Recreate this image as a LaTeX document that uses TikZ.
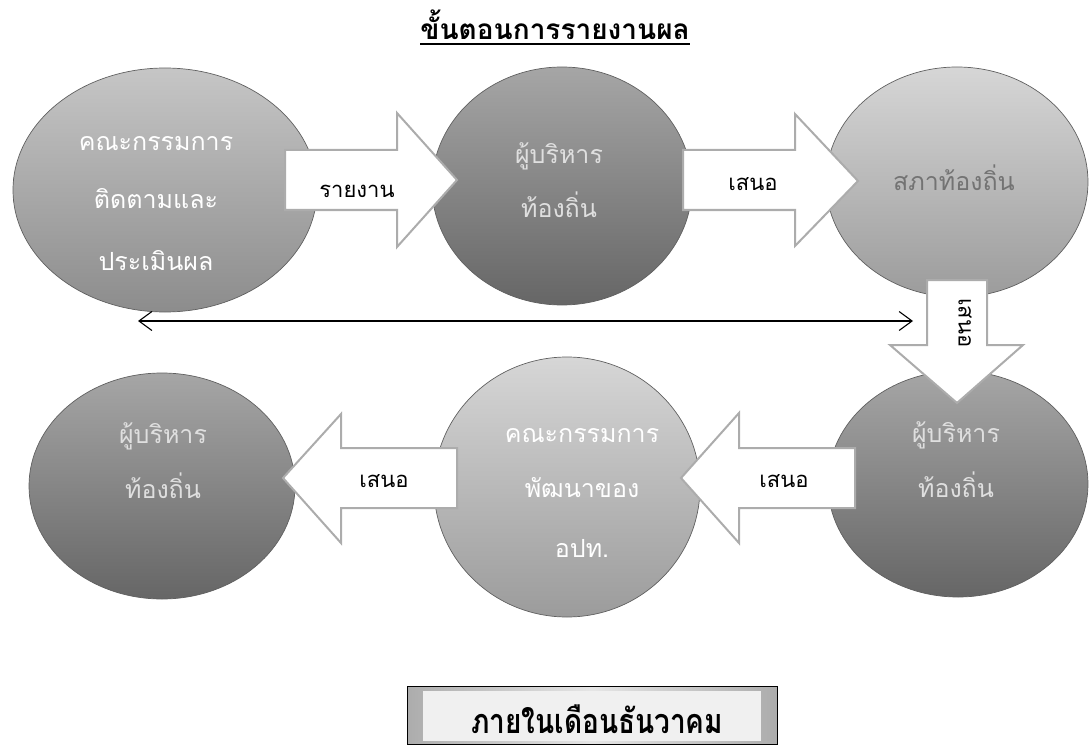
\documentclass[tikz,border=0pt]{standalone}
\usepackage{fontspec}
\newfontfamily\thaifont[Script=Thai]{Loma}
\usetikzlibrary{shapes.geometric,arrows.meta,calc}
\begin{document}
\begin{tikzpicture}[x=1pt,y=-1pt,
  bubble/.style={ellipse, draw=gray!75!black, line width=0.7pt, inner sep=0pt},
  bdark/.style={bubble, top color=gray!70, bottom color=black!60},
  bmid/.style={bubble, top color=gray!45, bottom color=gray!90},
  blight/.style={bubble, top color=gray!32, bottom color=gray!78},
  btext/.style={font=\thaifont\fontsize{25}{30}\selectfont, anchor=base, inner sep=0pt},
  wtext/.style={btext, text=white},
  gtext/.style={btext, text=gray!25},
  blockarrow/.style={draw=gray!65, line width=2pt, fill=white, line join=miter},
  lbl/.style={font=\thaifont\fontsize{22}{26}\selectfont, anchor=base, inner sep=0pt},
  heading/.style={font=\thaifont\bfseries\fontsize{28}{32}\selectfont, anchor=base, inner sep=0pt},
  thin arrow/.style={line width=1.1pt, {Straight Barb[length=13pt,width=19pt]}-{Straight Barb[length=13pt,width=19pt]}}
]
\useasboundingbox (0,0) rectangle (1089,746);

% title
\node[heading] (title) at (555,40) {ขั้นตอนการรายงานผล};
\draw[line width=1.8pt] ($(title.base west)+(0,4)$) -- ($(title.base east)+(0,4)$);

% ellipses, top row
\node[bmid, minimum width=304pt, minimum height=244pt] (e1) at (165,190) {};
\node[bdark, minimum width=260pt, minimum height=238pt] (e2) at (562,186) {};
\node[blight, minimum width=262pt, minimum height=230pt] (e3) at (957,182) {};
% ellipses, bottom row
\node[bdark, minimum width=266pt, minimum height=226pt] (e4) at (162,486) {};
\node[blight, minimum width=266pt, minimum height=260pt] (e5) at (567,487) {};
\node[bdark, minimum width=260pt, minimum height=226pt] (e6) at (958,484) {};

% double-headed line
\coordinate (dl) at (138,321);
\coordinate (dr) at (913,321);
\draw[thin arrow] (dl) -- (dr);

% block arrows
\draw[blockarrow] (285,150) -- (397,150) -- (397,113) -- (457,180) -- (397,247) -- (397,210) -- (285,210) -- cycle;
\draw[blockarrow] (683,150) -- (795,150) -- (795,114) -- (858,181) -- (795,246) -- (795,210) -- (683,210) -- cycle;
\draw[blockarrow] (927,280) -- (987,280) -- (987,345) -- (1023,345) -- (957,403) -- (890,345) -- (927,345) -- cycle;
\draw[blockarrow] (855,448) -- (739,448) -- (739,413) -- (681,478) -- (739,543) -- (739,508) -- (855,508) -- cycle;
\draw[blockarrow] (457,448) -- (341,448) -- (341,414) -- (283,478) -- (341,543) -- (341,508) -- (457,508) -- cycle;

% arrow labels
\node[lbl] (l1) at (357,197) {รายงาน};
\node[lbl] (l2) at (753,190) {เสนอ};
\node[lbl, anchor=center, rotate=-90] (l3) at (965,323) {เสนอ};
\node[lbl] (l4) at (784,487) {เสนอ};
\node[lbl] (l5) at (384,487) {เสนอ};

% ellipse texts
\node[wtext] (t1a) at (156,151) {คณะกรรมการ};
\node[wtext] (t1b) at (156,208) {ติดตามและ};
\node[wtext] (t1c) at (156,270) {ประเมินผล};
\node[gtext] (t2a) at (559,164) {ผู้บริหาร};
\node[gtext] (t2b) at (559,217) {ท้องถิ่น};
\node[btext, text=black!55] (t3) at (954,190) {สภาท้องถิ่น};
\node[gtext] (t4a) at (163,443) {ผู้บริหาร};
\node[gtext] (t4b) at (163,498) {ท้องถิ่น};
\node[wtext] (t5a) at (582,442) {คณะกรรมการ};
\node[wtext] (t5b) at (582,497) {พัฒนาของ};
\node[wtext] (t5c) at (582,557) {อปท.};
\node[gtext] (t6a) at (956,442) {ผู้บริหาร};
\node[gtext] (t6b) at (956,497) {ท้องถิ่น};

% bottom box
\node[draw=black, line width=0.7pt, left color=gray!65, right color=gray!65, middle color=gray!20,
      minimum width=370pt, minimum height=58pt, inner sep=0pt] (box) at (592,715) {};
\node[fill=gray!12, minimum width=338pt, minimum height=50pt, inner sep=0pt] (boxin) at (592,716) {};
\node[heading, text depth=0pt] (boxt) at (597,733) {\scalebox{1}[1.22]{ภายในเดือนธันวาคม}};
\end{tikzpicture}
\end{document}
